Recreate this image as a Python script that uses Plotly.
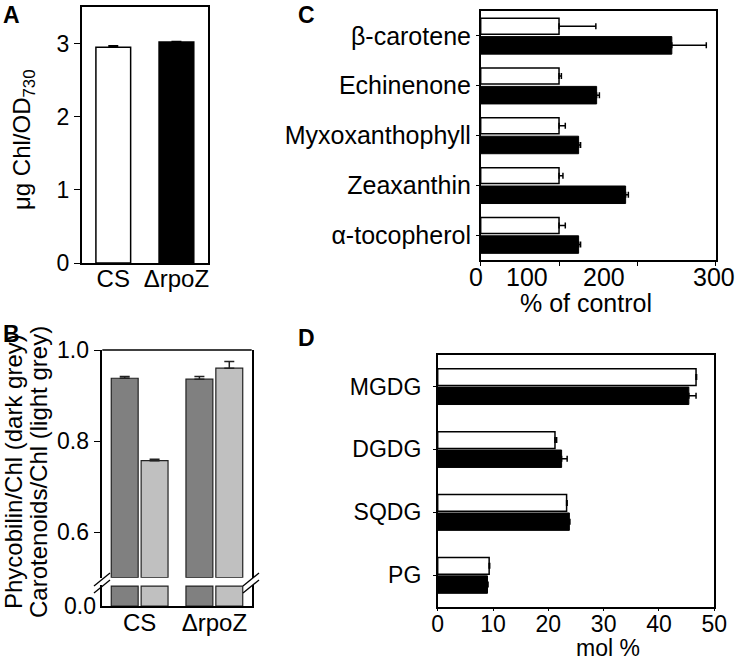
import numpy as np
import plotly.graph_objects as go

# ---------------- data ----------------
# Panel A
a_strains = ["CS", "ΔrpoZ"]
a_chl = [2.95, 3.02]
a_chl_err = [0.02, 0.01]

# Panel B
b_strains = ["CS", "ΔrpoZ"]
b_phycobilin = [0.938, 0.936]
b_phycobilin_err = [0.004, 0.006]
b_carotenoids = [0.757, 0.960]
b_carotenoids_err = [0.003, 0.015]

# Panel C
c_pigments = ["β-carotene", "Echinenone", "Myxoxanthophyll", "Zeaxanthin", "α-tocopherol"]
c_cs = [100, 100, 100, 100, 100]
c_cs_err = [47, 3, 8, 5, 8]
c_rpoz = [244, 148, 125, 185, 125]
c_rpoz_err = [44, 3.5, 2.5, 3.5, 2.5]
c_tick_labels = ["0", "100", "200", "300"]

# Panel D
d_lipids = ["MGDG", "DGDG", "SQDG", "PG"]
d_cs = [46.7, 21.2, 23.3, 9.3]
d_cs_err = [0.1, 0.3, 0.1, 0.1]
d_rpoz = [45.4, 22.4, 23.8, 9.0]
d_rpoz_err = [1.3, 1.0, 0.1, 0.1]

# ---------------- layout helpers ----------------
W, H = 740, 663
FONT = "Liberation Sans, Arial, sans-serif"


def px(x):
    return x / W


def py(y):
    return 1 - y / H


fig = go.Figure()

# ---- Panel A ----
fig.add_trace(go.Bar(
    x=a_strains, y=a_chl, width=0.55,
    marker=dict(color=["white", "black"], line=dict(color="black", width=1.5)),
    error_y=dict(type="data", array=a_chl_err, arrayminus=[0, 0], symmetric=False,
                 color="black", thickness=1.5, width=5),
    xaxis="x", yaxis="y", showlegend=False))

# ---- Panel B (broken axis) ----
B_BREAK = 0.5
B_STUB = 0.037
b_cols = [("#808080", b_phycobilin, b_phycobilin_err, -0.38),
          ("#c0c0c0", b_carotenoids, b_carotenoids_err, 0.02)]
for col, vals, errs, off in b_cols:
    vals = np.array(vals)
    fig.add_trace(go.Bar(
        x=b_strains, y=vals - B_BREAK, base=B_BREAK, width=0.36, offset=off,
        marker=dict(color=col, line=dict(color="#222222", width=1.2)),
        error_y=dict(type="data", array=errs, arrayminus=[0, 0], symmetric=False,
                     color="#222222", thickness=1.5, width=5),
        xaxis="x2", yaxis="y2", showlegend=False))
    fig.add_trace(go.Bar(
        x=b_strains, y=np.minimum(vals, B_STUB), width=0.36, offset=off,
        marker=dict(color=col, line=dict(color="#222222", width=1.2)),
        xaxis="x2", yaxis="y3", showlegend=False))

# ---- Panel C ----
fig.add_trace(go.Bar(
    y=c_pigments, x=c_cs, orientation="h", width=0.32, offset=-0.354,
    marker=dict(color="white", line=dict(color="black", width=1.5)),
    error_x=dict(type="data", array=c_cs_err, arrayminus=[0] * 5, symmetric=False,
                 color="black", thickness=1.5, width=3),
    xaxis="x3", yaxis="y4", showlegend=False))
fig.add_trace(go.Bar(
    y=c_pigments, x=c_rpoz, orientation="h", width=0.352, offset=0.014,
    marker=dict(color="black", line=dict(color="black", width=1)),
    error_x=dict(type="data", array=c_rpoz_err, arrayminus=[0] * 5, symmetric=False,
                 color="black", thickness=1.5, width=3),
    xaxis="x3", yaxis="y4", showlegend=False))

# ---- Panel D ----
fig.add_trace(go.Bar(
    y=d_lipids, x=d_cs, orientation="h", width=0.266, offset=-0.282,
    marker=dict(color="white", line=dict(color="black", width=1.5)),
    error_x=dict(type="data", array=d_cs_err, arrayminus=[0] * 4, symmetric=False,
                 color="black", thickness=1.5, width=3),
    xaxis="x4", yaxis="y5", showlegend=False))
fig.add_trace(go.Bar(
    y=d_lipids, x=d_rpoz, orientation="h", width=0.277, offset=0.01,
    marker=dict(color="black", line=dict(color="black", width=1)),
    error_x=dict(type="data", array=d_rpoz_err, arrayminus=[0] * 4, symmetric=False,
                 color="black", thickness=1.5, width=3),
    xaxis="x4", yaxis="y5", showlegend=False))


def ax(size=23, **kw):
    d = dict(showgrid=False, zeroline=False, linecolor="black", linewidth=1.5,
             tickcolor="black", automargin=False,
             tickfont=dict(family=FONT, size=size, color="black"))
    d.update(kw)
    return d


fig.update_layout(
    template="none",
    width=W, height=H, margin=dict(l=0, r=0, t=0, b=0, pad=0),
    paper_bgcolor="white", plot_bgcolor="white",
    barmode="overlay",
    font=dict(family=FONT, color="black", size=23),
    # A
    xaxis=ax(24, domain=[px(81.7), px(208)], anchor="y", showline=True, mirror=True,
             ticks="", range=[-0.5, 1.5], ticklabelstandoff=-7),
    yaxis=ax(23, domain=[py(263), py(7)], anchor="x", range=[0, 3.5], showline=True, mirror=True,
             ticks="outside", ticklen=6, tickvals=[0, 1, 2, 3]),
    # B
    xaxis2=ax(24, domain=[px(102.3), px(251.7)], anchor="y3", showline=True, mirror=False,
              ticks="", range=[-0.5, 1.5], ticklabelstandoff=-6),
    yaxis2=ax(23, domain=[py(577.7), py(350)], anchor="x2", range=[B_BREAK, 1.0], showline=True,
              mirror=True, ticks="outside", ticklen=7, tickvals=[0.6, 0.8, 1.0],
              ticktext=["0.6", "0.8", "1.0"]),
    yaxis3=ax(23, domain=[py(606), py(584.5)], anchor="x2", range=[0, 0.04], showline=True,
              mirror=True, ticks="", tickvals=[0], ticktext=["0.0"]),
    # C
    xaxis3=ax(25, domain=[px(480.7), px(715.7)], anchor="y4", range=[0, 300], showline=True,
              mirror=True, ticks="outside", ticklen=4, tickvals=[0, 100, 200, 300],
              showticklabels=False),
    yaxis4=ax(25, domain=[py(260), py(11)], anchor="x3", range=[4.5, -0.5], type="category",
              showline=True, mirror=True, ticks="outside", ticklen=3),
    # D
    xaxis4=ax(23, domain=[px(437.7), px(714.3)], anchor="y5", range=[0, 50], showline=True,
              mirror=True, ticks="outside", ticklen=3, tickvals=[0, 10, 20, 30, 40, 50],
              ticklabelstandoff=-7),
    yaxis5=ax(23, domain=[py(606.7), py(355)], anchor="x4", range=[3.5, -0.5], type="category",
              showline=True, mirror=True, ticks="outside", ticklen=3, ticklabelstandoff=7),
)

ann = []
bold = dict(family=FONT, size=23, color="black")
for letter, x, y in [("<b>A</b>", 11, 15), ("<b>B</b>", 11, 334), ("<b>C</b>", 306, 15), ("<b>D</b>", 306, 338)]:
    ann.append(dict(text=letter, x=px(x), y=py(y), xref="paper", yref="paper",
                    showarrow=False, xanchor="center", yanchor="middle", font=bold))
ann.append(dict(text="μg Chl/OD<sub>730</sub>", x=px(23), y=py(140), xref="paper", yref="paper",
                showarrow=False, textangle=-90, xanchor="center", yanchor="middle",
                font=dict(family=FONT, size=24)))
ann.append(dict(text="Phycobilin/Chl (dark grey)", x=px(13), y=py(472), xref="paper", yref="paper",
                showarrow=False, textangle=-90, xanchor="center", yanchor="middle",
                font=dict(family=FONT, size=24)))
ann.append(dict(text="Carotenoids/Chl (light grey)", x=px(38), y=py(472), xref="paper", yref="paper",
                showarrow=False, textangle=-90, xanchor="center", yanchor="middle",
                font=dict(family=FONT, size=24)))
ann.append(dict(text="% of control", x=px(586), y=py(303), xref="paper", yref="paper",
                showarrow=False, xanchor="center", yanchor="middle", font=dict(family=FONT, size=25)))
ann.append(dict(text="mol %", x=px(608), y=py(648), xref="paper", yref="paper",
                showarrow=False, xanchor="center", yanchor="middle", font=dict(family=FONT, size=23)))
# Panel C tick labels (placed where the original figure prints them)
c_label_px = [475.7, 526.7, 604, 714]
for t, xp in zip(c_tick_labels, c_label_px):
    ann.append(dict(text=t, x=px(xp), y=py(277), xref="paper", yref="paper", showarrow=False,
                    xanchor="center", yanchor="middle", font=dict(family=FONT, size=25)))

shapes = []
# top line of panel B
shapes.append(dict(type="line", xref="paper", yref="paper", x0=px(102.3), x1=px(251.7),
                   y0=py(350), y1=py(350), line=dict(color="black", width=1.5)))
# break marks
for xl in (94, 243):
    for dy in (0, 7):
        shapes.append(dict(type="line", xref="paper", yref="paper",
                           x0=px(xl), y0=py(586 + dy), x1=px(xl + 16), y1=py(573 + dy),
                           line=dict(color="black", width=1.3)))
fig.update_layout(annotations=ann, shapes=shapes)

fig.write_html("out.html", config={"displayModeBar": False},
               post_script="document.body.style.margin='0';")
